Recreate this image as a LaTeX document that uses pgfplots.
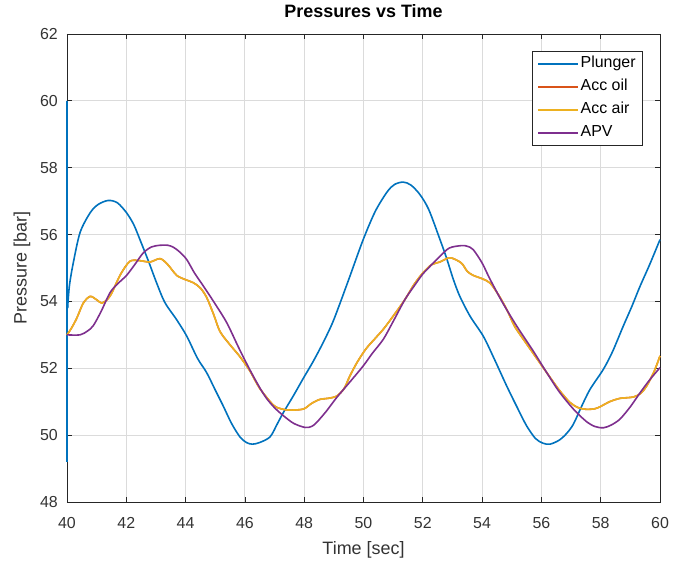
\documentclass[border=0pt]{standalone}
\usepackage{fontspec}
\setmainfont{Liberation Sans}
\usepackage{pgfplots}
\pgfplotsset{compat=1.18}
\definecolor{mplunger}{rgb}{0,0.447,0.741}
\definecolor{maccoil}{rgb}{0.850,0.325,0.098}
\definecolor{maccair}{rgb}{0.929,0.694,0.125}
\definecolor{mapv}{rgb}{0.494,0.184,0.556}
\definecolor{maxis}{rgb}{0.15,0.15,0.15}
\begin{document}
\begin{tikzpicture}
\path[use as bounding box] (-67bp,-63bp) rectangle (607bp,502bp);
\begin{axis}[
  scale only axis,
  width=593bp, height=468bp,
  xmin=40, xmax=60, ymin=48, ymax=62,
  clip=false,
  xtick={40,42,...,60}, ytick={48,50,...,62},
  grid=major,
  major grid style={line width=0.9bp, color=black!14},
  axis line style={line width=0.8bp, color=maxis},
  tick style={line width=0.8bp, color=maxis},
  tick align=inside,
  major tick length=5bp,
  /pgf/number format/assume math mode=true,
  tick label style={font=\fontsize{16}{19}\selectfont, text=black!80},
  yticklabel style={anchor=east, inner sep=0pt, xshift=-9bp},
  xticklabel style={anchor=north, inner sep=0pt, yshift=-15bp},
  title={\textbf{Pressures vs Time}},
  title style={font=\fontsize{18}{21}\selectfont, at={(axis description cs:0.5,1.0363)}, anchor=center},
  xlabel={Time [sec]},
  ylabel={Pressure [bar]},
  label style={font=\fontsize{18}{21}\selectfont, text=black!80},
  xlabel style={at={(axis description cs:0.5,-0.1026)}, anchor=center},
  ylabel style={at={(axis description cs:-0.0759,0.5)}, anchor=center},
  legend style={at={(1,1)}, anchor=north east, xshift=-17bp, yshift=-17bp,
    font=\fontsize{16}{19}\selectfont, draw=maxis, line width=0.8bp, fill=white,
    inner xsep=5.5bp, inner ysep=3bp, row sep=4bp,
    nodes={inner sep=1.5bp, text height=12bp, text depth=4bp}},
  legend cell align=left,
  legend image code/.code={\draw[#1, line width=1.5bp] (0bp,0bp) -- (40bp,0bp);},
  every axis plot/.append style={line width=1.6bp},
]
\addplot[color=mplunger, smooth] coordinates {
(40.02,53.8)(40.08,54.46)(40.2,55.1)(40.44,56.06)(40.78,56.65)(41.05,56.9)(41.39,57.02)(41.7,56.95)(42.01,56.65)(42.25,56.3)(42.46,55.85)(42.75,55.2)(43.02,54.56)(43.3,53.97)(43.7,53.45)(44.04,52.96)(44.4,52.3)(44.71,51.87)(45.0,51.35)(45.27,50.87)(45.55,50.35)(45.83,49.95)(46.05,49.78)(46.25,49.73)(46.5,49.78)(46.85,49.95)(47.1,50.35)(47.3,50.68)(47.65,51.2)(47.97,51.7)(48.3,52.2)(48.64,52.77)(48.95,53.35)(49.21,53.95)(49.54,54.75)(49.99,55.85)(50.4,56.7)(50.8,57.28)(51.05,57.5)(51.34,57.57)(51.6,57.48)(51.9,57.2)(52.2,56.75)(52.58,55.85)(52.8,55.3)(53.03,54.66)(53.25,54.15)(53.6,53.55)(54.04,52.96)(54.4,52.3)(54.83,51.47)(55.2,50.8)(55.5,50.28)(55.8,49.9)(56.05,49.76)(56.29,49.73)(56.6,49.85)(56.85,50.05)(57.08,50.33)(57.35,50.85)(57.64,51.37)(58.09,51.97)(58.4,52.5)(58.76,53.26)(59.05,53.85)(59.33,54.46)(59.65,55.1)(60,55.85)
};
\addlegendentry{Plunger}
\addplot[color=mplunger, forget plot] coordinates {
(40,53.0)(40,60.0)(40,49.2)(40.005,54.0)(40.02,53.8)
};
\addplot[color=maccoil, smooth] coordinates {
(40,53.0)(40.15,53.2)(40.33,53.5)(40.55,53.95)(40.78,54.15)(41.0,54.05)(41.17,53.95)(41.35,54.05)(41.51,54.25)(41.8,54.8)(42.12,55.2)(42.45,55.22)(42.8,55.18)(43.14,55.28)(43.4,55.1)(43.7,54.78)(44.0,54.65)(44.26,54.56)(44.5,54.4)(44.71,54.12)(44.95,53.6)(45.16,53.1)(45.5,52.7)(45.83,52.35)(46.17,51.92)(46.5,51.4)(46.96,50.9)(47.25,50.78)(47.52,50.75)(47.97,50.78)(48.25,50.95)(48.53,51.07)(48.8,51.1)(49.1,51.17)(49.35,51.4)(49.54,51.77)(49.8,52.2)(50.1,52.6)(50.4,52.9)(50.67,53.17)(51.0,53.56)(51.4,54.06)(51.7,54.5)(52.0,54.85)(52.3,55.1)(52.58,55.18)(52.8,55.28)(52.97,55.3)(53.3,55.15)(53.5,54.9)(53.7,54.78)(54.0,54.68)(54.27,54.55)(54.55,54.2)(54.83,53.76)(55.1,53.25)(55.39,52.87)(55.8,52.35)(56.18,51.87)(56.6,51.35)(56.96,50.98)(57.25,50.82)(57.53,50.77)(57.8,50.79)(57.98,50.85)(58.3,51.0)(58.65,51.1)(59.1,51.14)(59.35,51.25)(59.55,51.47)(59.8,51.9)(60,52.37)
};
\addlegendentry{Acc oil}
\addplot[color=maccair, smooth] coordinates {
(40,53.0)(40.15,53.2)(40.33,53.5)(40.55,53.95)(40.78,54.15)(41.0,54.05)(41.17,53.95)(41.35,54.05)(41.51,54.25)(41.8,54.8)(42.12,55.2)(42.45,55.22)(42.8,55.18)(43.14,55.28)(43.4,55.1)(43.7,54.78)(44.0,54.65)(44.26,54.56)(44.5,54.4)(44.71,54.12)(44.95,53.6)(45.16,53.1)(45.5,52.7)(45.83,52.35)(46.17,51.92)(46.5,51.4)(46.96,50.9)(47.25,50.78)(47.52,50.75)(47.97,50.78)(48.25,50.95)(48.53,51.07)(48.8,51.1)(49.1,51.17)(49.35,51.4)(49.54,51.77)(49.8,52.2)(50.1,52.6)(50.4,52.9)(50.67,53.17)(51.0,53.56)(51.4,54.06)(51.7,54.5)(52.0,54.85)(52.3,55.1)(52.58,55.18)(52.8,55.28)(52.97,55.3)(53.3,55.15)(53.5,54.9)(53.7,54.78)(54.0,54.68)(54.27,54.55)(54.55,54.2)(54.83,53.76)(55.1,53.25)(55.39,52.87)(55.8,52.35)(56.18,51.87)(56.6,51.35)(56.96,50.98)(57.25,50.82)(57.53,50.77)(57.8,50.79)(57.98,50.85)(58.3,51.0)(58.65,51.1)(59.1,51.14)(59.35,51.25)(59.55,51.47)(59.8,51.9)(60,52.37)
};
\addlegendentry{Acc air}
\addplot[color=mapv, smooth] coordinates {
(40,53.0)(40.44,53.0)(40.7,53.12)(40.89,53.28)(41.15,53.7)(41.45,54.26)(41.7,54.52)(42.01,54.78)(42.3,55.12)(42.57,55.45)(42.85,55.63)(43.14,55.68)(43.4,55.68)(43.59,55.62)(43.8,55.48)(44.04,55.25)(44.3,54.85)(44.6,54.46)(45.0,53.92)(45.39,53.36)(45.8,52.6)(46.17,51.95)(46.5,51.42)(46.73,51.1)(47.0,50.82)(47.3,50.58)(47.65,50.35)(48.03,50.23)(48.25,50.26)(48.42,50.38)(48.75,50.72)(49.1,51.13)(49.55,51.6)(49.99,52.07)(50.3,52.45)(50.67,52.87)(51.0,53.4)(51.4,54.06)(51.7,54.45)(52.0,54.82)(52.3,55.1)(52.58,55.35)(52.9,55.6)(53.31,55.67)(53.5,55.65)(53.7,55.55)(54.0,55.15)(54.27,54.66)(54.7,53.95)(55.17,53.26)(55.7,52.55)(56.18,51.87)(56.6,51.3)(57.08,50.78)(57.5,50.42)(57.8,50.26)(58.09,50.22)(58.35,50.3)(58.65,50.48)(59.0,50.85)(59.33,51.27)(59.65,51.65)(60,52.02)
};
\addlegendentry{APV}
\end{axis}
\end{tikzpicture}
\end{document}
